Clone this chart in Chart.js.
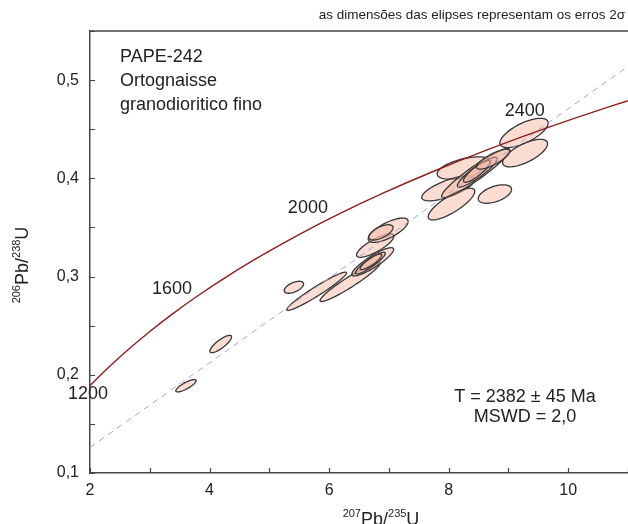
<!DOCTYPE html>
<html lang="pt">
<head>
    <meta charset="UTF-8">
    <title>Concordia PAPE-242</title>
    <style>
        html, body { margin: 0; padding: 0; background: #fff; }
        #wrap { width: 628px; height: 524px; }
    </style>
    <script src="https://cdn.jsdelivr.net/npm/chart.js"></script>
</head>
<body>
<div id="wrap"><canvas id="chart" width="628" height="524"></canvas></div>
<script>
    // curva concórdia (idade em Ma, 207Pb/235U, 206Pb/238U)
    const concAge = [1100, 1200, 1300, 1400, 1500, 1600, 1700, 1800, 1900, 2000, 2100, 2200, 2300, 2400, 2500, 2600];
    const concX = [1.9545, 2.2603, 2.5977, 2.9701, 3.3810, 3.8344, 4.3348, 4.8869, 5.4962, 6.1685, 6.9104, 7.7291, 8.6326, 9.6296, 10.7297, 11.9437];
    const concY = [0.1861, 0.2046, 0.2234, 0.2426, 0.2620, 0.2817, 0.3018, 0.3221, 0.3428, 0.3638, 0.3851, 0.4067, 0.4287, 0.4511, 0.4738, 0.4968];

    // discórdia (reta tracejada)
    const discX = [2, 11];
    const discY = [0.126, 0.514];

    // elipses de erro 2 sigma: centro, erros e correlação
    const ellX   = [3.605, 4.187, 5.411, 5.791, 6.348, 6.730, 6.690, 6.700, 6.771, 6.988, 6.866, 9.261, 9.278, 8.773, 8.262, 7.995, 8.047, 8.452, 8.480, 8.470, 8.745];
    const ellY   = [0.1888, 0.2313, 0.2891, 0.2850, 0.2944, 0.3150, 0.3137, 0.3150, 0.3315, 0.3472, 0.3450, 0.4462, 0.4257, 0.3840, 0.4105, 0.3898, 0.3738, 0.4053, 0.4063, 0.4070, 0.4195];
    const ellSx  = [0.170, 0.181, 0.162, 0.500, 0.500, 0.350, 0.250, 0.180, 0.312, 0.334, 0.204, 0.404, 0.376, 0.279, 0.455, 0.445, 0.390, 0.570, 0.334, 0.222, 0.279];
    const ellSy  = [0.0063, 0.0088, 0.0061, 0.0195, 0.0198, 0.0144, 0.0110, 0.0080, 0.0119, 0.0124, 0.0078, 0.0149, 0.0140, 0.0094, 0.0114, 0.0127, 0.0162, 0.0250, 0.0152, 0.0110, 0.0102];
    const ellRho = [0.82, 0.82, 0.55, 0.96, 0.95, 0.88, 0.90, 0.86, 0.80, 0.72, 0.62, 0.68, 0.68, 0.50, 0.52, 0.72, 0.80, 0.94, 0.90, 0.86, 0.80];

    // eixos
    const xTicks = [2, 3, 4, 5, 6, 7, 8, 9, 10, 11];
    const xTickLabels = ['2', '', '4', '', '6', '', '8', '', '10', ''];
    const yTicks = [0.1, 0.15, 0.2, 0.25, 0.3, 0.35, 0.4, 0.45, 0.5, 0.55];
    const yTickLabels = ['0,1', '', '0,2', '', '0,3', '', '0,4', '', '0,5', ''];

    // rótulos de idade na concórdia
    const ageLabels = ['1200', '1600', '2000', '2400'];

    const FONT = "'Liberation Sans', Arial, sans-serif";
    const INK = '#222';

    function drawParts(ctx, parts, x, y, size) {
        const big = size + 'px ' + FONT;
        const small = Math.round(size * 0.6) + 'px ' + FONT;
        let w = 0;
        parts.forEach(p => { ctx.font = p.sup ? small : big; w += ctx.measureText(p.t).width; });
        let cx = x - w / 2;
        ctx.textAlign = 'left';
        ctx.textBaseline = 'alphabetic';
        parts.forEach(p => {
            ctx.font = p.sup ? small : big;
            ctx.fillText(p.t, cx, p.sup ? y - size * 0.42 : y);
            cx += ctx.measureText(p.t).width;
        });
    }

    // desenha as elipses com as escalas do gráfico
    const ellipsePlugin = {
        id: 'ellipses',
        beforeDatasetsDraw(chart) {
            const {ctx, chartArea, scales: {x, y}} = chart;
            ctx.save();
            ctx.beginPath();
            ctx.rect(chartArea.left, chartArea.top, chartArea.right - chartArea.left, chartArea.bottom - chartArea.top);
            ctx.clip();
            for (let i = 0; i < ellX.length; i++) {
                const r = ellRho[i], q = Math.sqrt(1 - r * r);
                ctx.beginPath();
                for (let k = 0; k <= 72; k++) {
                    const t = k / 72 * Math.PI * 2;
                    const px = x.getPixelForValue(ellX[i] + ellSx[i] * Math.cos(t));
                    const py = y.getPixelForValue(ellY[i] + ellSy[i] * (r * Math.cos(t) + q * Math.sin(t)));
                    if (k === 0) ctx.moveTo(px, py); else ctx.lineTo(px, py);
                }
                ctx.closePath();
                ctx.fillStyle = 'rgba(246, 186, 166, 0.5)';
                ctx.fill();
                ctx.lineWidth = 1.3;
                ctx.strokeStyle = '#363636';
                ctx.stroke();
            }
            ctx.restore();
        }
    };

    // ticks internos, moldura superior, textos e títulos dos eixos
    const decorPlugin = {
        id: 'decor',
        afterDraw(chart) {
            const {ctx, chartArea: a, scales: {x, y}} = chart;
            ctx.save();
            ctx.strokeStyle = '#444';
            ctx.lineWidth = 1.2;
            ctx.beginPath();
            yTicks.forEach(v => { const p = Math.round(y.getPixelForValue(v)) + 0.5; ctx.moveTo(a.left, p); ctx.lineTo(a.left + 5, p); });
            xTicks.forEach(v => { const p = Math.round(x.getPixelForValue(v)) + 0.5; ctx.moveTo(p, a.bottom); ctx.lineTo(p, a.bottom - 5); });
            ctx.stroke();
            ctx.lineWidth = 1.5;
            ctx.beginPath();
            ctx.moveTo(a.left, a.top);
            ctx.lineTo(a.right, a.top);
            ctx.stroke();

            ctx.fillStyle = INK;
            ctx.font = '18px ' + FONT;
            ctx.textAlign = 'left';
            ctx.textBaseline = 'alphabetic';
            ctx.fillText('PAPE-242', 120, 62);
            ctx.fillText('Ortognaisse', 120, 86);
            ctx.fillText('granodioritico fino', 120, 110);

            ctx.textAlign = 'center';
            ctx.textBaseline = 'middle';
            ctx.fillText('T = 2382 ± 45 Ma', 525, 397);
            ctx.fillText('MSWD = 2,0', 525, 417);

            const agePos = [[1.967, 0.1802], [3.371, 0.2878], [5.645, 0.370], [9.274, 0.4685]];
            ageLabels.forEach((s, i) => {
                ctx.fillText(s, x.getPixelForValue(agePos[i][0]), y.getPixelForValue(agePos[i][1]));
            });

            ctx.font = '13.5px ' + FONT;
            ctx.textAlign = 'right';
            ctx.fillText('as dimensões das elipses representam os erros 2σ', 625, 15);

            drawParts(ctx, [{t: '207', sup: true}, {t: 'Pb/'}, {t: '235', sup: true}, {t: 'U'}], 381, 525, 18);
            ctx.translate(28, 265);
            ctx.rotate(-Math.PI / 2);
            drawParts(ctx, [{t: '206', sup: true}, {t: 'Pb/'}, {t: '238', sup: true}, {t: 'U'}], 0, 0, 18);
            ctx.restore();
        }
    };

    new Chart(document.getElementById('chart'), {
        type: 'scatter',
        data: {
            datasets: [
                {
                    data: concX.map((v, i) => ({x: v, y: concY[i]})),
                    showLine: true,
                    borderColor: '#8e1d1d',
                    borderWidth: 1.4,
                    pointRadius: 0,
                    cubicInterpolationMode: 'monotone'
                },
                {
                    data: discX.map((v, i) => ({x: v, y: discY[i]})),
                    showLine: true,
                    borderColor: '#a4a6cc',
                    borderWidth: 1,
                    borderDash: [6, 5],
                    pointRadius: 0
                }
            ]
        },
        options: {
            responsive: false,
            animation: false,
            layout: {padding: {top: 31, right: 0, left: 0, bottom: 0}},
            plugins: {legend: {display: false}, tooltip: {enabled: false}},
            scales: {
                x: {
                    type: 'linear', min: 2, max: 11,
                    afterBuildTicks: s => { s.ticks = xTicks.map(v => ({value: v})); },
                    afterFit: s => { s.height = 51; s.paddingLeft = 0; s.paddingRight = 0; },
                    grid: {display: false, drawTicks: false},
                    border: {color: '#444', width: 1.5},
                    ticks: {
                        autoSkip: false, maxRotation: 0, padding: 8, color: INK,
                        font: {family: FONT, size: 16},
                        callback: v => xTickLabels[xTicks.indexOf(v)] || ''
                    }
                },
                y: {
                    type: 'linear', min: 0.1, max: 0.55,
                    afterBuildTicks: s => { s.ticks = yTicks.map(v => ({value: v})); },
                    afterFit: s => { s.width = 90; s.paddingTop = 0; s.paddingBottom = 0; },
                    grid: {display: false, drawTicks: false},
                    border: {color: '#444', width: 1.5},
                    ticks: {
                        autoSkip: false, padding: 11, color: INK,
                        font: {family: FONT, size: 16},
                        callback: v => {
                            const i = yTicks.findIndex(t => Math.abs(t - v) < 1e-9);
                            return i < 0 ? '' : yTickLabels[i];
                        }
                    }
                }
            }
        },
        plugins: [ellipsePlugin, decorPlugin]
    });
</script>
</body>
</html>
